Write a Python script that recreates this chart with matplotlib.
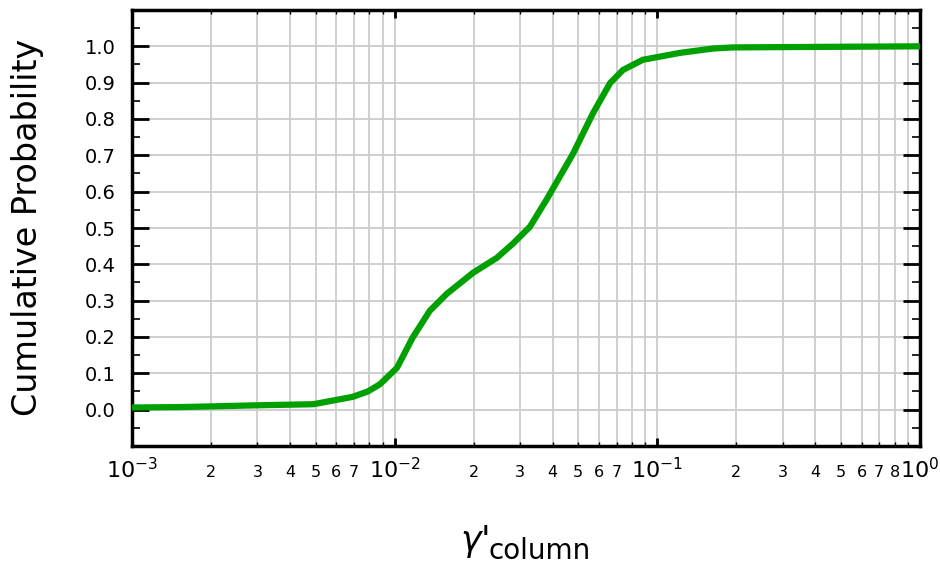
#!/usr/bin/env python3

import numpy as np
import matplotlib
matplotlib.use('Agg')
import matplotlib.pyplot as plt
from matplotlib.ticker import FixedLocator, FuncFormatter

# Points
gamma= [0.001, 0.0015, 0.002, 0.003, 0.0049, 0.0069, 0.0079, 0.00879,
        0.0102, 0.0117, 0.0136, 0.0158, 0.0199, 0.0245, 0.0282, 0.0327,
        0.038, 0.0478, 0.0569, 0.0661, 0.074, 0.0881, 0.122, 0.163, 0.194,
        0.32, 1.0]
cdf= [0.006, 0.007, 0.009, 0.012, 0.015, 0.035, 0.050, 0.070,
      0.115, 0.198, 0.272, 0.319, 0.377, 0.418, 0.457, 0.503,
      0.580, 0.705, 0.816, 0.899, 0.935, 0.963, 0.982, 0.994, 0.997,
      0.998, 1.0]

decades= [-3, -2, -1, 0]
# which minor multiples get a label in each decade
minor_labels= {-3: [2, 3, 4, 5, 6, 7], -2: [2, 3, 4, 5, 6, 7], -1: [2, 3, 4, 5, 6, 7, 8]}
y_ticks= [round(0.1*i, 1) for i in range(11)]

fig= plt.figure(figsize=(9.4, 5.67), dpi=100)
ax= fig.add_axes([132/940, 1-446/567, (920-132)/940, (446-10)/567])

ax.plot(gamma, cdf, color='#00a000', lw=4.5, solid_capstyle='butt', zorder=3)

ax.set_xscale('log')
ax.set_xlim(1e-3, 1)
ax.set_ylim(-0.1, 1.1)

major_x= [10.0**d for d in decades]
minor_x= [m * 10.0**d for d in decades[:-1] for m in range(2, 10)]
ax.xaxis.set_major_locator(FixedLocator(major_x))
ax.xaxis.set_minor_locator(FixedLocator(minor_x))
ax.xaxis.set_major_formatter(FuncFormatter(lambda v, p: r'$\mathregular{10^{%d}}$' % round(np.log10(v))))

def minor_fmt(v, p):
    d= int(np.floor(np.log10(v) + 1e-9))
    m= int(round(v / 10.0**d))
    return str(m) if m in minor_labels.get(d, []) else ''

ax.xaxis.set_minor_formatter(FuncFormatter(minor_fmt))

ax.yaxis.set_major_locator(FixedLocator(y_ticks))
ax.yaxis.set_minor_locator(FixedLocator([0.05 + 0.1*i for i in range(-2, 11)]))
ax.yaxis.set_major_formatter(FuncFormatter(lambda v, p: '%.1f' % v))

ax.grid(True, which='both', axis='x', color='#cccccc', lw=1.3)
ax.grid(True, which='major', axis='y', color='#cccccc', lw=1.3)
ax.set_axisbelow(True)

ax.tick_params(axis='x', which='major', direction='in', top=True, length=6, width=2,
               labelsize=16, pad=8)
ax.tick_params(axis='x', which='minor', direction='in', top=True, length=3, width=1,
               labelsize=11.5, pad=14)
ax.tick_params(axis='y', which='major', direction='in', right=True, length=12, width=2,
               labelsize=14, pad=12)
ax.tick_params(axis='y', which='minor', direction='in', right=True, length=6, width=1.2)

for s in ax.spines.values():
    s.set_linewidth(2.5)

fig.text(28/940, 1-227/567, 'Cumulative Probability', fontsize=24,
         rotation=90, ha='center', va='center')

fig.text(460/940, 1-542/567, r"$\gamma$'", fontsize=25, ha='left', va='center')
fig.text(488/940, 1-551/567, 'column', fontsize=20, ha='left', va='center')

fig.savefig('out.png', dpi=100)
